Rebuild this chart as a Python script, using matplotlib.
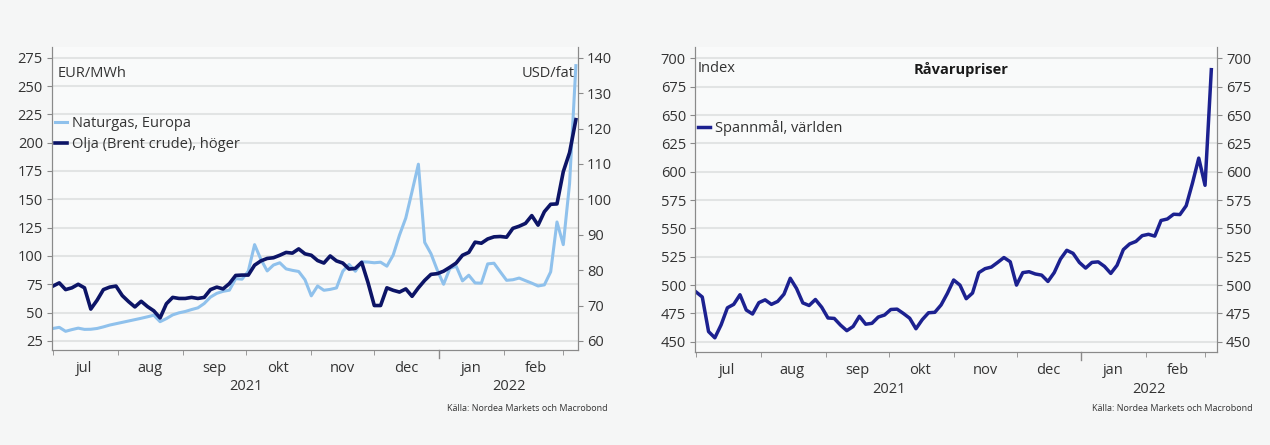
import numpy as np
import pandas as pd
import matplotlib
matplotlib.use("Agg")
from matplotlib import pyplot as plt
from matplotlib import transforms

plt.rcParams['font.family'] = ['Open Sans', 'DejaVu Sans']

# data (3-day steps from 1 Jul 2021)
gas_dates = pd.date_range('2021-07-01', periods=84, freq='3D')
gas = [36, 37, 33.5, 35, 36.3, 35.2, 35.3, 36, 37.4, 39,
       40.2, 41.4, 42.6, 43.8, 45, 46.3, 47.7, 42, 44.7, 48,
       49.8, 51, 52.7, 54.2, 58, 63.7, 67, 68.8, 69.8, 80,
       79.5, 86.5, 110, 97, 86.8, 92, 94, 88.6, 87.3, 86.3,
       79, 64.8, 73.5, 69.7, 70.5, 71.8, 86.5, 92.5, 86.5, 94.8,
       94.6, 94, 94.5, 91, 100.8, 118.4, 133.5, 157, 181, 112,
       102, 87.5, 75, 89, 91, 78, 83, 76.2, 76, 93,
       93.6, 86, 78.5, 79, 80.5, 78.2, 76, 73.5, 74.5, 86,
       130, 110, 164, 268]
oil = [75.5, 76.4, 74.5, 75, 76, 75, 69, 71.5, 74.5, 75.2,
       75.5, 72.8, 71.1, 69.6, 71.2, 69.7, 68.5, 66.5, 70.5, 72.3,
       72, 72, 72.3, 72, 72.3, 74.5, 75.2, 74.7, 76.2, 78.5,
       78.6, 78.6, 81.4, 82.6, 83.3, 83.5, 84.2, 85, 84.8, 86,
       84.6, 84.2, 82.7, 82, 84, 82.6, 82, 80.3, 80.5, 82.2,
       76.5, 70, 70, 75, 74.3, 73.8, 74.7, 72.6, 75, 77.1,
       78.8, 79, 79.7, 80.8, 82, 84.2, 85, 87.9, 87.6, 88.8,
       89.4, 89.5, 89.3, 91.8, 92.4, 93.2, 95.4, 92.7, 96.5, 98.6,
       98.7, 107.8, 113.2, 122.5]

grain_dates = pd.date_range('2021-07-01', periods=83, freq='3D')
grain = [494, 489.5, 459, 453.5, 465, 480, 483, 491.5, 478, 474.5,
         484.5, 487, 483, 485.6, 492, 506, 497, 484.3, 482, 487.3,
         480.5, 471, 470.6, 464.7, 459.8, 463.5, 472.5, 465.5, 466.3, 471.8,
         473.6, 478.5, 478.8, 475, 470.8, 461.5, 469.5, 475.6, 476, 482.5,
         492.7, 504.5, 500, 488, 493, 511, 514.5, 515.9, 520, 524.3,
         520.6, 500, 511, 511.8, 509.8, 508.8, 503.2, 511, 523, 530.7,
         528, 520, 515, 520, 520.5, 516.5, 510.3, 517.5, 531.3, 536.3,
         538.5, 543.6, 544.8, 543.2, 557, 558.3, 562.5, 562.2, 570, 590,
         612, 588, 690]

month_labels = ['jul', 'aug', 'sep', 'okt', 'nov', 'dec', 'jan', 'feb']
year_labels = ['2021', '2022']
source = 'Källa: Nordea Markets och Macrobond'

GAS_C = '#8fc1ec'
OIL_C = '#0c1466'
GRAIN_C = '#1c2190'
TXT = '#333333'
SPINE = '#8a8a8a'
GRID = '#e2e4e4'

fig = plt.figure(figsize=(12.7, 4.45), dpi=100)
fig.patch.set_facecolor('#f5f6f6')


def style_time_axis(ax, end):
    start = pd.Timestamp('2021-06-30 12:00')
    ax.set_xlim(start, end)
    month_starts = pd.date_range('2021-07-01', '2022-03-01', freq='MS')
    mids = month_starts[:-1] + pd.Timedelta(days=15)
    ax.set_xticks(month_starts, minor=True)
    ax.set_xticks(mids)
    ax.set_xticklabels(month_labels)
    ax.tick_params(axis='x', which='major', length=0, pad=8, labelsize=10.5, colors=TXT)
    ax.tick_params(axis='x', which='minor', length=3.5, color=SPINE)
    # longer tick at the year change
    ax.axvline(pd.Timestamp('2022-01-01'), ymin=-0.025, ymax=0, color=SPINE, lw=1, clip_on=False)
    trans = transforms.blended_transform_factory(ax.transData, ax.transAxes)
    ymid = [pd.Timestamp('2021-10-01'), pd.Timestamp('2022-01-01') + (end - pd.Timestamp('2022-01-01')) / 2]
    for lab, xm in zip(year_labels, ymid):
        ax.text(xm, -0.122, lab, transform=trans, ha='center', va='center', fontsize=10.5, color=TXT)


def style_frame(ax, ax2):
    for a in (ax, ax2):
        a.spines['top'].set_visible(False)
        for s in ('left', 'right', 'bottom'):
            a.spines[s].set_color(SPINE)
        a.tick_params(axis='y', length=3.5, color=SPINE, labelsize=10.5, colors=TXT, pad=3)
    ax.set_facecolor('#f9fafa')
    ax2.patch.set_visible(False)
    ax.grid(axis='y', color=GRID, lw=1.5)
    ax.set_axisbelow(True)


# ---- left: gas and oil
ax1 = fig.add_axes([0.0409, 0.2135, 0.4142, 0.681])
ax1b = ax1.twinx()
l1, = ax1.plot(gas_dates, gas, color=GAS_C, lw=2.2, label='Naturgas, Europa')
l2, = ax1b.plot(gas_dates, oil, color=OIL_C, lw=2.6, label='Olja (Brent crude), höger')
lo, hi = 17, 284.5
ax1.set_ylim(lo, hi)
ax1b.set_ylim(60 + (lo - 25) * 0.32, 60 + (hi - 25) * 0.32)
ax1.set_yticks(np.arange(25, 276, 25))
ax1b.set_yticks(np.arange(60, 141, 10))
style_frame(ax1, ax1b)
style_time_axis(ax1, pd.Timestamp('2022-03-08'))
ax1.text(0.011, 0.914, 'EUR/MWh', transform=ax1.transAxes, fontsize=10.5, color=TXT, va='center')
ax1.text(0.994, 0.914, 'USD/fat', transform=ax1.transAxes, fontsize=10.5, color=TXT, va='center', ha='right')
ax1.legend(handles=[l1, l2], loc='upper left', bbox_to_anchor=(-0.005, 0.79), frameon=False,
           fontsize=10.5, handlelength=0.8, handletextpad=0.35, labelspacing=0.4, borderaxespad=0,
           labelcolor=TXT)
fig.text(0.4787, 0.081, source, ha='right', va='center', fontsize=6.5, color=TXT)

# ---- right: grain
ax2 = fig.add_axes([0.5472, 0.209, 0.411, 0.6854])
ax2b = ax2.twinx()
l3, = ax2.plot(grain_dates, grain, color=GRAIN_C, lw=2.5, label='Spannmål, världen')
ax2.set_ylim(441, 710)
ax2b.set_ylim(441, 710)
ax2.set_yticks(np.arange(450, 701, 25))
ax2b.set_yticks(np.arange(450, 701, 25))
style_frame(ax2, ax2b)
style_time_axis(ax2, pd.Timestamp('2022-03-06 16:00'))
ax2.text(0.006, 0.931, 'Index', transform=ax2.transAxes, fontsize=10.5, color=TXT, va='center')
ax2.text(0.51, 0.925, 'Råvarupriser', transform=ax2.transAxes, fontsize=10.5, color='#1a1a1a',
         va='center', ha='center', fontweight='bold')
ax2.legend(handles=[l3], loc='upper left', bbox_to_anchor=(-0.005, 0.78), frameon=False,
           fontsize=10.5, handlelength=0.8, handletextpad=0.35, borderaxespad=0, labelcolor=TXT)
fig.text(0.986, 0.081, source, ha='right', va='center', fontsize=6.5, color=TXT)

plt.savefig('out.png', dpi=100, facecolor=fig.get_facecolor())
